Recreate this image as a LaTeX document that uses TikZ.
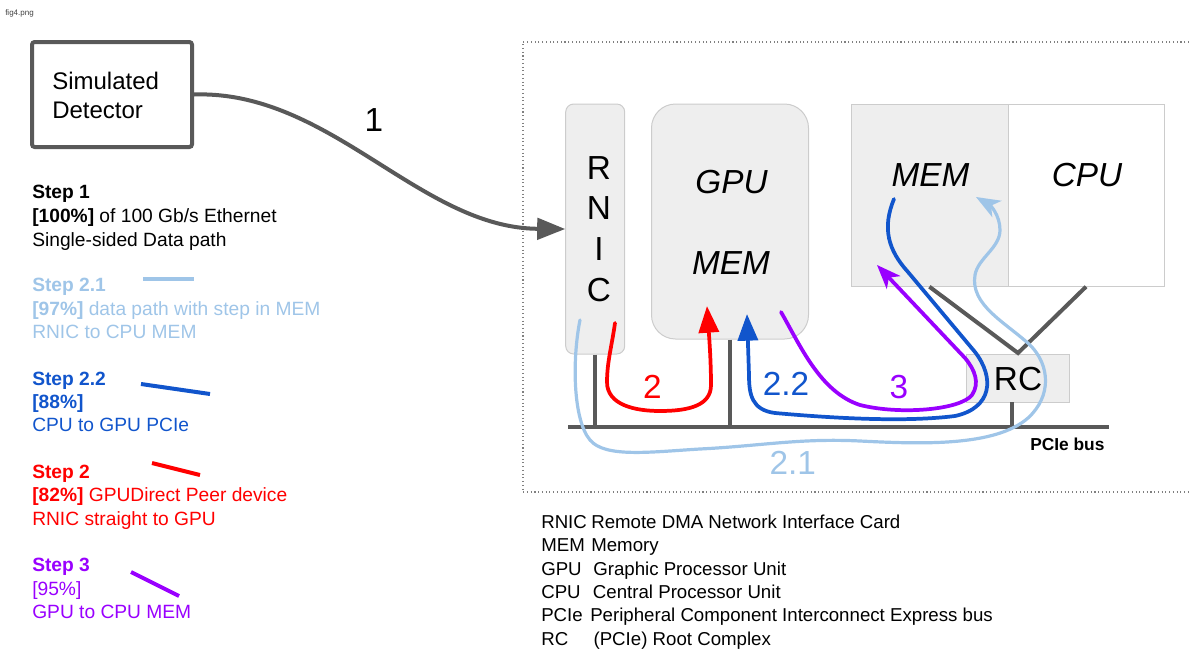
\documentclass[tikz,border=0pt]{standalone}
\usepackage{fontspec}
\setmainfont{Liberation Sans}
\usetikzlibrary{arrows.meta}
\definecolor{lblue}{HTML}{9FC5E8}
\definecolor{dblue}{HTML}{1155CC}
\definecolor{pred}{HTML}{FF0000}
\definecolor{purp}{HTML}{9900FF}
\definecolor{dgray}{HTML}{595959}
\definecolor{boxfill}{HTML}{EEEEEE}
\definecolor{boxline}{HTML}{CCCCCC}
\begin{document}
\begin{tikzpicture}[x=0.75pt,y=-0.75pt,
  st/.style={anchor=base west, inner sep=0pt, font=\fontsize{14.4}{17}\selectfont},
  lg/.style={anchor=base west, inner sep=0pt, font=\fontsize{14}{17}\selectfont},
  big/.style={inner sep=0pt, font=\fontsize{25}{30}\selectfont},
  bigit/.style={inner sep=0pt, font=\fontsize{25}{30}\selectfont\itshape},
  gbox/.style={draw=boxline, fill=boxfill, line width=0.75pt, inner sep=0pt},
  wire/.style={draw=dgray, line width=3pt},
  sample/.style={line width=3pt},
  flow/.style={line width=2.8pt, line cap=round},
  fat/.style={-{Triangle[length=20pt,width=15pt]}},
  thin/.style={-{Stealth[length=18pt,width=14pt,inset=5pt]}}
]
\useasboundingbox (0,0) rectangle (1189,650);

% file name
\node[anchor=base west, inner sep=0pt, font=\fontsize{6}{7}\selectfont, text=black!75] (fname) at (5,15) {fig4.png};

% dotted frame
\coordinate (frTR) at (1189,42);
\coordinate (frTL) at (523,42);
\coordinate (frBL) at (523,492);
\coordinate (frBR) at (1189,492);
\draw[gray, dotted, line width=0.8pt] (frTR) -- (frTL) -- (frBL) -- (frBR);

% detector
\node[draw=dgray, line width=3pt, rounded corners=2pt, minimum width=120pt, minimum height=78.75pt, inner sep=0pt] (det) at (112,94.5) {};
\node[anchor=base west, inner sep=0pt, font=\fontsize{18}{22}\selectfont] (detA) at (52,89.5) {Simulated};
\node[anchor=base west, inner sep=0pt, font=\fontsize{18}{22}\selectfont] (detB) at (52,118.5) {Detector};

% boxes
\node[gbox, rounded corners=6pt, minimum width=44.25pt, minimum height=187.5pt] (rnic) at (595.2,229) {};
\node[gbox, rounded corners=18pt, minimum width=117.75pt, minimum height=176.25pt] (gpu) at (730,221.5) {};
\node[gbox, minimum width=118.1pt, minimum height=137pt] (cmem) at (929.75,195.35) {};
\node[draw=boxline, fill=white, line width=0.75pt, inner sep=0pt, minimum width=116.9pt, minimum height=137pt] (cpu) at (1086.45,195.35) {};
\node[gbox, minimum width=76.8pt, minimum height=36pt] (rc) at (1017.8,378) {};

% box texts
\node[big] (tR) at (599,168.5) {R};
\node[big] (tN) at (599,208.5) {N};
\node[big] (tI) at (599,249) {I};
\node[big] (tC) at (599,290) {C};
\node[bigit] (tgpu) at (731.5,181.7) {GPU};
\node[bigit] (tgmem) at (731,263.3) {MEM};
\node[bigit] (tcmem) at (930.5,175) {MEM};
\node[bigit] (tcpu) at (1087,175) {CPU};
\node[big] (trc) at (1018,379) {RC};

% bus and wires
\coordinate (busL) at (568,426.5);
\coordinate (busR) at (1109,426.5);
\draw[wire] (busL) -- (busR);
\draw[wire] (rnic.south) -- (rnic.south |- busL);
\draw[wire] (gpu.south) -- (gpu.south |- busL);
\coordinate (rcb) at (1011.5,402);
\draw[wire] (rcb) -- (rcb |- busL);
\coordinate (rctop) at (1018,353);
\coordinate (memfoot) at (929.4,286.7);
\coordinate (cpufoot) at (1086,286.7);
\draw[wire] (memfoot) -- (rctop) -- (cpufoot);
\node[anchor=base west, inner sep=0pt, font=\fontsize{13}{15}\selectfont\bfseries] (pcie) at (1030,450) {PCIe bus};

% arrow 1
\draw[draw=dgray, line width=3pt, -{Triangle[length=21pt,width=16pt]}] (det.east) .. controls (330,90) and (420,228) .. (rnic.west);
\node[big] (l1) at (374,120) {1};

% step 2.1 light blue
\coordinate (a0) at (580,320);
\coordinate (a1) at (976,197);
\draw[lblue, flow, line width=2.4pt, thin] (a0) .. controls (572,360) and (573,420) .. (590,440)
  .. controls (605,458) and (650,452) .. (700,449)
  .. controls (760,446) and (800,438) .. (860,441)
  .. controls (920,444) and (995,447) .. (1028,418)
  .. controls (1052,396) and (1050,365) .. (1030,345)
  .. controls (1005,322) and (970,305) .. (975,275)
  .. controls (978,258) and (1000,248) .. (1000,230)
  .. controls (1000,215) and (990,205) .. (a1);
\node[big, text=lblue] (l21) at (792.7,462.5) {2.1};

% step 2.2 blue
\coordinate (b0) at (894,199);
\coordinate (b1) at (747,314);
\draw[dblue, flow, fat] (b0) .. controls (882,228) and (888,250) .. (908,272) -- (975,352)
  .. controls (995,378) and (992,408) .. (955,416)
  .. controls (900,423) and (820,417) .. (775,413)
  .. controls (752,410) and (749,395) .. (749,375) -- (b1);
\node[big, text=dblue] (l22) at (786,384) {2.2};

% step 3 purple
\coordinate (p0) at (781,312);
\coordinate (p1) at (877,265);
\draw[purp, flow, thin] (p0) .. controls (800,345) and (820,392) .. (860,405)
  .. controls (900,415) and (960,410) .. (972,395)
  .. controls (980,383) and (975,370) .. (965,358) -- (p1);
\node[big, text=purp] (l3) at (899,387.5) {3};

% step 2 red
\coordinate (r0) at (615,323);
\coordinate (r1) at (707,306);
\draw[pred, flow, fat] (r0) .. controls (612,345) and (607,362) .. (607,382)
  .. controls (607,405) and (635,411) .. (660,411)
  .. controls (690,411) and (711,405) .. (711,385)
  .. controls (711,360) and (709,335) .. (r1);
\node[big, text=pred] (l2) at (652.5,386.7) {2};

% step texts
\node[st] (s1a) at (32,198) {\textbf{Step 1}};
\node[st] (s1b) at (32,222) {\textbf{[100\%]} of 100 Gb/s Ethernet};
\node[st] (s1c) at (32,246) {Single-sided Data path};

\node[st, text=lblue] (s21a) at (32,291.7) {\textbf{Step 2.1}};
\node[st, text=lblue] (s21b) at (32,315) {\textbf{[97\%]} data path with step in MEM};
\node[st, text=lblue] (s21c) at (32,338.3) {RNIC to CPU MEM};
\coordinate (k21a) at (143,279); \coordinate (k21b) at (194,279);
\draw[lblue, sample] (k21a) -- (k21b);

\node[st, text=dblue] (s22a) at (32,385) {\textbf{Step 2.2}};
\node[st, text=dblue] (s22b) at (32,408.3) {\textbf{[88\%]}};
\node[st, text=dblue] (s22c) at (32,431.7) {CPU to GPU PCIe};
\coordinate (k22a) at (141,384); \coordinate (k22b) at (210,394);
\draw[dblue, sample] (k22a) -- (k22b);

\node[st, text=pred] (s2a) at (32,478.3) {\textbf{Step 2}};
\node[st, text=pred] (s2b) at (32,501.7) {\textbf{[82\%]} GPUDirect Peer device};
\node[st, text=pred] (s2c) at (32,525) {RNIC straight to GPU};
\coordinate (k2a) at (152,463); \coordinate (k2b) at (200,475);
\draw[pred, sample] (k2a) -- (k2b);

\node[st, text=purp] (s3a) at (32,571.7) {\textbf{Step 3}};
\node[st, text=purp] (s3b) at (32,595) {[95\%]};
\node[st, text=purp] (s3c) at (32,618.3) {GPU to CPU MEM};
\coordinate (k3a) at (131,572); \coordinate (k3b) at (179,596);
\draw[purp, sample] (k3a) -- (k3b);

% legend
\node[lg] (ga1) at (541,528.3) {RNIC}; \node[lg] (gb1) at (591,528.3) {Remote DMA Network Interface Card};
\node[lg] (ga2) at (541,551.7) {MEM};  \node[lg] (gb2) at (591,551.7) {Memory};
\node[lg] (ga3) at (541,575) {GPU};    \node[lg] (gb3) at (593,575) {Graphic Processor Unit};
\node[lg] (ga4) at (541,598.3) {CPU};  \node[lg] (gb4) at (592.7,598.3) {Central Processor Unit};
\node[lg] (ga5) at (541,621.7) {PCIe}; \node[lg] (gb5) at (590,621.7) {Peripheral Component Interconnect Express bus};
\node[lg] (ga6) at (541,645) {RC};     \node[lg] (gb6) at (593.3,645) {(PCIe) Root Complex};
\end{tikzpicture}
\end{document}
